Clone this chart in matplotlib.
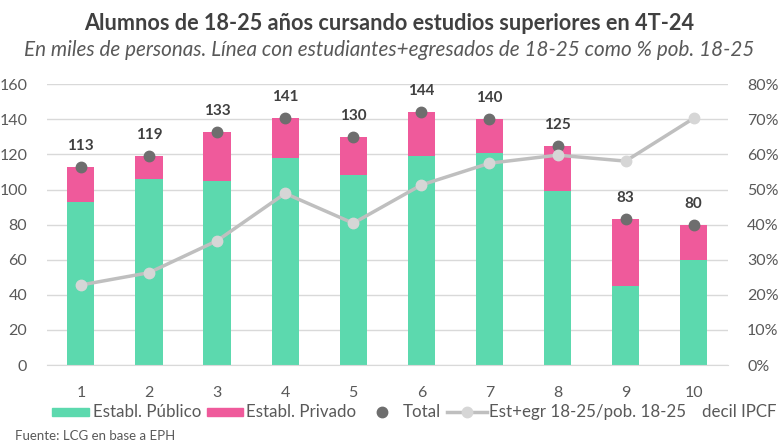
import matplotlib
matplotlib.use("Agg")
import matplotlib.pyplot as plt
from matplotlib.lines import Line2D
from matplotlib.patches import Rectangle
import numpy as np

plt.rcParams['font.family'] = ['Lato', 'DejaVu Sans']

# Datos (miles de personas y % pob. 18-25)
deciles = ["1", "2", "3", "4", "5", "6", "7", "8", "9", "10"]
publico = [93, 106, 105, 118, 108, 119, 121, 99, 45, 60]
total = [113, 119, 133, 141, 130, 144, 140, 125, 83, 80]
privado = [t - p for t, p in zip(total, publico)]
est_egr_pct = [22.8, 26.3, 35.4, 48.9, 40.4, 51.3, 57.5, 59.8, 58.1, 70.3]

verde = "#5CD9AE"
rosa = "#EF5A9B"
gris_dot = "#6E6E6E"
gris_linea = "#BFBFBF"
gris_txt = "#595959"

W, H = 780, 446
fig = plt.figure(figsize=(7.8, 4.46), dpi=100)
ax = fig.add_axes([0.060, 0.1816, 0.873, 0.6295])
x = np.arange(1, len(deciles) + 1)

ax.bar(x, publico, width=0.4, color=verde, zorder=2)
ax.bar(x, privado, width=0.4, bottom=publico, color=rosa, zorder=2)
ax.plot(x, total, linestyle="none", marker="o", markersize=7.5, color=gris_dot, zorder=4)
for xi, t in zip(x, total):
    ax.annotate(str(t), (xi, t), xytext=(0, 10), textcoords="offset points",
                ha="center", va="bottom", fontsize=11, fontweight="bold", color="#404040")

ax.set_xlim(0.5, 10.5)
ax.set_ylim(0, 160)
ax.set_yticks(range(0, 161, 20))
ax.set_xticks(x)
ax.set_xticklabels(deciles)
ax.grid(axis="y", color="#D9D9D9", linewidth=1, zorder=0)
ax.set_axisbelow(True)
for s in ["top", "right", "left"]:
    ax.spines[s].set_visible(False)
ax.spines["bottom"].set_color("#D9D9D9")
ax.tick_params(axis="both", length=0, labelsize=11.5, labelcolor=gris_txt)
ax.tick_params(axis="y", pad=14)
ax.tick_params(axis="x", pad=15)

ax2 = ax.twinx()
ax2.plot(x, est_egr_pct, color=gris_linea, linewidth=2.5, marker="o", markersize=7.5,
         markerfacecolor="#D6D6D6", markeredgecolor="#D6D6D6", zorder=3)
ax2.set_ylim(0, 80)
ax2.set_yticks(range(0, 81, 10))
ax2.set_yticklabels([f"{v}%" for v in range(0, 81, 10)])
for s in ["top", "right", "left", "bottom"]:
    ax2.spines[s].set_visible(False)
ax2.tick_params(axis="y", length=0, labelsize=11.5, labelcolor=gris_txt, pad=14)

fig.text(0.499, 0.948, "Alumnos de 18-25 años cursando estudios superiores en 4T-24",
         ha="center", va="center", fontsize=15.6, fontweight="bold", color="#404040")
fig.text(0.499, 0.887, "En miles de personas. Línea con estudiantes+egresados de 18-25 como % pob. 18-25",
         ha="center", va="center", fontsize=14.9, style="italic", color=gris_txt)

# Leyenda construida a mano (posiciones en pixeles de la figura)
ly = 1 - 412 / H
rh = 8 / H
fig.add_artist(Rectangle((52 / W, ly - rh / 2), 37 / W, rh, color=verde, transform=fig.transFigure))
fig.add_artist(Rectangle((207 / W, ly - rh / 2), 36 / W, rh, color=rosa, transform=fig.transFigure))
fig.add_artist(Line2D([382 / W], [ly], linestyle="none", marker="o", markersize=7.5,
                      color=gris_dot, transform=fig.transFigure))
fig.add_artist(Line2D([447 / W, 487 / W], [ly, ly], color=gris_linea, linewidth=2.5,
                      transform=fig.transFigure))
fig.add_artist(Line2D([467 / W], [ly], linestyle="none", marker="o", markersize=7.5,
                      color="#D6D6D6", transform=fig.transFigure))
leyenda = [(93, "Establ. Público"), (246, "Establ. Privado"), (403, "Total"),
           (489, "Est+egr 18-25/pob. 18-25"), (702, "decil IPCF")]
for px, txt in leyenda:
    fig.text(px / W, ly, txt, ha="left", va="center", fontsize=12.2, color=gris_txt)

fig.text(0.019, 0.022, "Fuente: LCG en base a EPH", ha="left", va="center",
         fontsize=9.5, color=gris_txt)

fig.savefig("out.png", dpi=100)
